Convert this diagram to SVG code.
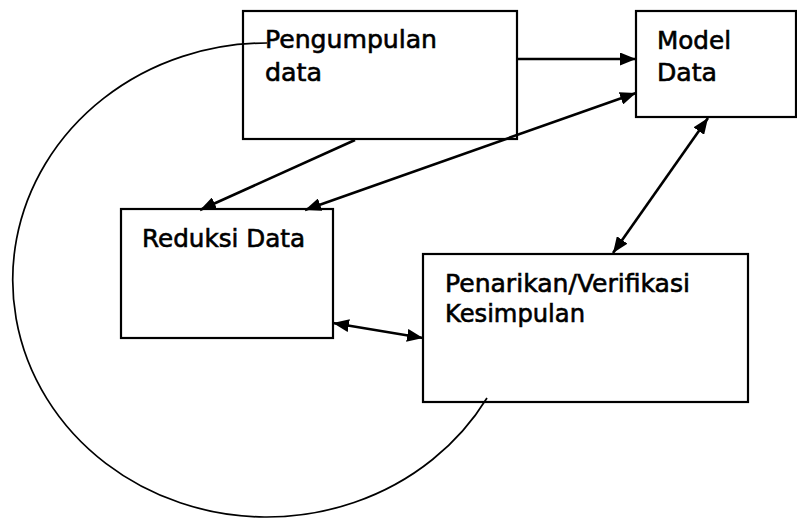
<svg xmlns="http://www.w3.org/2000/svg" width="797" height="518" viewBox="0 0 797 518">
  <style>
    .box { fill: #ffffff; stroke: #000000; stroke-width: 2.2; }
    .label { font-family: "DejaVu Sans", "Liberation Sans", sans-serif; font-size: 24px; fill: #000000; stroke: #000000; stroke-width: 0.6; }
    .link { fill: none; stroke: #000000; stroke-width: 2.6; }
    .loop { fill: none; stroke: #000000; stroke-width: 1.7; }
  </style>
  <defs>
    <marker id="arrow" viewBox="0 0 16 13" refX="16" refY="6.5" markerWidth="16" markerHeight="13" markerUnits="userSpaceOnUse" orient="auto-start-reverse">
      <path d="M0,0 L16,6.5 L0,13 z" fill="#000000"/>
    </marker>
  </defs>

  <rect x="0" y="0" width="797" height="518" fill="#ffffff"/>

  <g id="pengumpulan">
    <rect class="box" x="243" y="11" width="274" height="128"/>
    <text class="label" x="265" y="48" textLength="172" lengthAdjust="spacingAndGlyphs">Pengumpulan</text>
    <text class="label" x="265" y="81" textLength="57" lengthAdjust="spacingAndGlyphs">data</text>
  </g>

  <g id="model-data">
    <rect class="box" x="636" y="11" width="160" height="106"/>
    <text class="label" x="657" y="49" textLength="74" lengthAdjust="spacingAndGlyphs">Model</text>
    <text class="label" x="657" y="81" textLength="60" lengthAdjust="spacingAndGlyphs">Data</text>
  </g>

  <g id="reduksi">
    <rect class="box" x="121" y="209" width="212" height="129"/>
    <text class="label" x="142" y="247" textLength="163" lengthAdjust="spacingAndGlyphs">Reduksi Data</text>
  </g>

  <g id="penarikan">
    <rect class="box" x="423" y="254" width="325" height="148"/>
    <text class="label" x="445" y="292" textLength="245" lengthAdjust="spacingAndGlyphs">Penarikan/Verifikasi</text>
    <text class="label" x="445" y="322" textLength="140" lengthAdjust="spacingAndGlyphs">Kesimpulan</text>
  </g>

  <g id="connectors">
    <path class="link" d="M517,59 L636,59" marker-end="url(#arrow)"/>
    <path class="link" d="M636,93 L305,210" marker-start="url(#arrow)" marker-end="url(#arrow)"/>
    <path class="link" d="M355,140 L200,210" marker-end="url(#arrow)"/>
    <path class="link" d="M708,118 L613,253" marker-start="url(#arrow)" marker-end="url(#arrow)"/>
    <path class="link" d="M333,323 L423,338" marker-start="url(#arrow)" marker-end="url(#arrow)"/>
    <path class="loop" d="M267,43 A254,237 0 1 0 487,398"/>
  </g>
</svg>
